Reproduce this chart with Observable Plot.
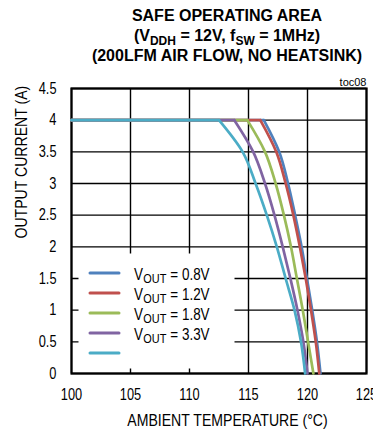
<!DOCTYPE html>
<html><head><meta charset="utf-8">
<script src="https://cdn.jsdelivr.net/npm/d3@7"></script>
<script src="https://cdn.jsdelivr.net/npm/@observablehq/plot@0.6"></script>
<style>
body{margin:0;background:#fff;}
#wrap{position:relative;width:373px;height:433px;overflow:hidden;}
#title{position:relative;height:70px;font-family:"Liberation Sans",Arial,sans-serif;font-weight:bold;font-size:16px;line-height:16px;color:#000;}
#title div{position:absolute;left:227px;transform:translateX(-50%);white-space:nowrap;}
#title sub{font-size:12px;vertical-align:-4px;line-height:0;}
</style></head><body>
<div id="wrap">
<div id="title">
  <div style="top:8px">SAFE OPERATING AREA</div>
  <div style="top:28px">(V<sub>DDH</sub> = 12V, f<sub>SW</sub> = 1MHz)</div>
  <div style="top:48px">(200LFM AIR FLOW, NO HEATSINK)</div>
</div>
<div id="chart"></div>
</div>
<script>
const FONT = '"Liberation Sans",Arial,sans-serif';
const series = ["0.8V", "1.2V", "1.8V", "3.3V", "series 5"];
const legendLabels = ["0.8V", "1.2V", "1.8V", "3.3V"];
const colors = ["#4F81BD", "#C0504D", "#9BBB59", "#8064A2", "#4BACC6"];
const xTicks = [100, 105, 110, 115, 120, 125];
const yTicks = [0, 0.5, 1, 1.5, 2, 2.5, 3, 3.5, 4, 4.5];
const startTemp = 100;
const currents = [4, 3.5, 3, 2.5, 2, 1.5, 1, 0.5, 0];
const temps_08 = [116.3, 117.6, 118.35, 118.95, 119.5, 119.95, 120.4, 120.8, 121.1];
const temps_12 = [116.0, 117.35, 118.15, 118.8, 119.35, 119.85, 120.3, 120.7, 121.0];
const temps_18 = [114.9, 116.4, 117.3, 118.0, 118.6, 119.1, 119.6, 120.05, 120.5];
const temps_33 = [113.8, 115.4, 116.4, 117.2, 117.9, 118.55, 119.15, 119.65, 120.0];
const temps_5 = [112.5, 114.5, 115.6, 116.55, 117.4, 118.15, 118.9, 119.45, 119.8];
const allTemps = [temps_08, temps_12, temps_18, temps_33, temps_5];

const flatRows = [];
const curveRows = [];
series.forEach((s, i) => {
  flatRows.push({series: s, x: startTemp, y: currents[0]});
  flatRows.push({series: s, x: allTemps[i][0], y: currents[0]});
  currents.forEach((c, j) => curveRows.push({series: s, x: allTemps[i][j], y: c}));
});

const fmt = d => String(d);
const plot = Plot.plot({
  width: 373, height: 363,
  marginTop: 18, marginBottom: 60, marginLeft: 71, marginRight: 7,
  x: {domain: [100, 125], ticks: xTicks, tickFormat: fmt, label: null},
  y: {domain: [0, 4.5], ticks: yTicks, tickFormat: fmt, label: null},
  color: {domain: series, range: colors},
  style: {fontFamily: FONT, fontSize: "16px", color: "black", background: "white", overflow: "visible"},
  marks: [
    Plot.gridX(xTicks, {stroke: "black", strokeOpacity: 1, strokeWidth: 1.4}),
    Plot.gridY(yTicks, {stroke: "black", strokeOpacity: 1, strokeWidth: 1.4}),
    Plot.frame({fill: "white", stroke: "none", insetLeft: 7, insetRight: 132, insetTop: 165, insetBottom: 5}),
    Plot.frame({stroke: "black", strokeWidth: 2.2}),
    Plot.axisX(xTicks, {tickSize: 0, tickPadding: 15, fontSize: 16, tickFormat: fmt}),
    Plot.axisY(yTicks, {tickSize: 0, tickPadding: 15, fontSize: 16, tickFormat: fmt}),
    Plot.line(flatRows, {x: "x", y: "y", z: "series", stroke: "series", strokeWidth: 2.7}),
    Plot.line(curveRows, {x: "x", y: "y", z: "series", stroke: "series", strokeWidth: 2.7, curve: "monotone-y"}),
    Plot.text(["toc08"], {frameAnchor: "top-right", dy: -10, textAnchor: "end", fontSize: 11}),
    Plot.text(["AMBIENT TEMPERATURE (°C)"], {frameAnchor: "bottom", dx: 8.5, dy: 52, fontSize: 16}),
    Plot.text(["OUTPUT CURRENT (A)"], {frameAnchor: "left", dx: -50, dy: 7.5, rotate: -90, fontSize: 16})
  ]
});
document.getElementById("chart").appendChild(plot);

const svg = d3.select(plot);

// condense text horizontally (reference uses a narrow face)
function condense(el, f) {
  const len = el.getComputedTextLength();
  el.setAttribute("textLength", (len * f).toFixed(2));
  el.setAttribute("lengthAdjust", "spacingAndGlyphs");
  return len * f;
}
svg.selectAll("text").each(function() {
  const s = this.textContent;
  if (s === "toc08") return;
  condense(this, /^[0-9.]+$/.test(s) ? 0.8 : 0.88);
});

// legend
const color = plot.scale("color");
const lg = svg.append("g").attr("font-family", FONT).attr("text-anchor", "start").attr("fill", "black");
series.forEach((s, i) => {
  lg.append("line").attr("x1", 90).attr("x2", 119).attr("y1", 203 + 20 * i).attr("y2", 203 + 20 * i)
    .attr("stroke", color.apply(s)).attr("stroke-width", 3).attr("stroke-linecap", "round");
});
legendLabels.forEach((l, i) => {
  const y = 209.5 + 20 * i;
  let x = 134;
  const parts = [["V", 16, 0], ["OUT", 13, 3], [" = " + l, 16, 0]];
  parts.forEach(([txt, size, dy]) => {
    const t = lg.append("text").attr("x", x).attr("y", y + dy).attr("font-size", size)
      .style("white-space", "pre").text(txt);
    x += condense(t.node(), 0.84) + 0.3;
  });
});
</script>
</body></html>
